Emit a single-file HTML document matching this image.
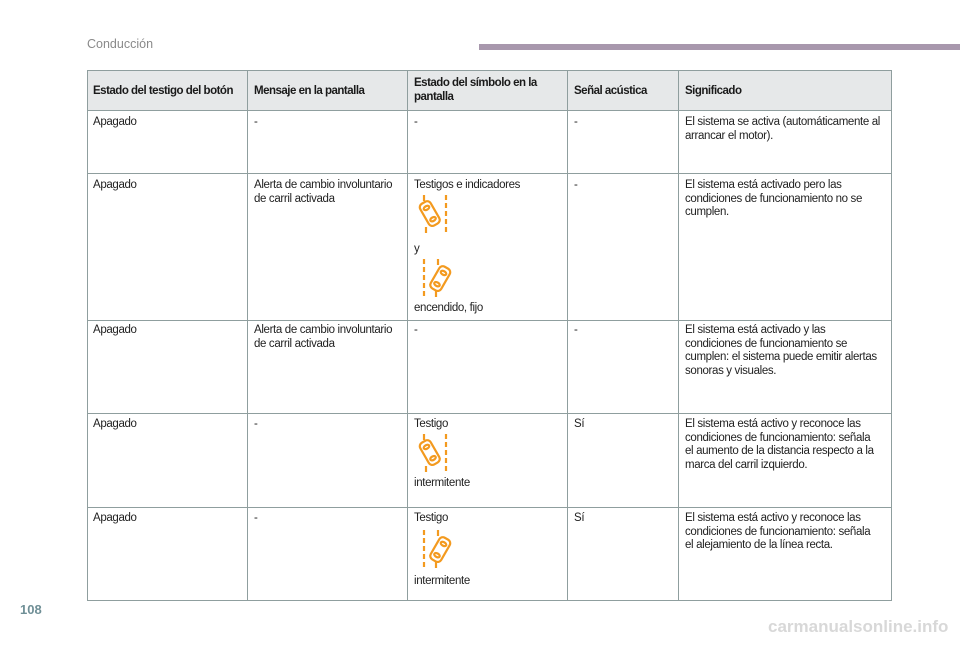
<!DOCTYPE html>
<html><head><meta charset="utf-8"><style>
body{margin:0;width:960px;height:649px;background:#fff;position:relative;overflow:hidden;font-family:"Liberation Sans",Arial,sans-serif;}
.t{position:absolute;font-size:11.5px;line-height:13.5px;color:#222;letter-spacing:-0.35px;white-space:nowrap}
.h{font-weight:bold;letter-spacing:-0.5px;color:#1a1a1a}
.hl{position:absolute;height:1px;background:#8f9e9e;left:87px;width:805px}
.vl{position:absolute;width:1px;background:#8f9e9e;top:70px;height:531px}
svg{position:absolute}
</style></head><body>
<div class="t" style="left:87px;top:38px;font-size:12.5px;color:#8a8a8a;letter-spacing:0">Conducción</div>
<div style="position:absolute;left:479px;top:44px;width:481px;height:6px;background:#a898ad"></div>
<div style="position:absolute;left:87px;top:70px;width:805px;height:41px;background:#e6e8e9"></div>
<div class="hl" style="top:70px"></div><div class="hl" style="top:110px"></div><div class="hl" style="top:173px"></div>
<div class="hl" style="top:320px"></div><div class="hl" style="top:413px"></div><div class="hl" style="top:507px"></div><div class="hl" style="top:600px"></div>
<div class="vl" style="left:87px"></div><div class="vl" style="left:247px"></div><div class="vl" style="left:407px"></div>
<div class="vl" style="left:567px"></div><div class="vl" style="left:678px"></div><div class="vl" style="left:891px"></div>

<div class="t h" style="left:93px;top:85px">Estado del testigo del botón</div>
<div class="t h" style="left:254px;top:85px">Mensaje en la pantalla</div>
<div class="t h" style="left:414px;top:77px">Estado del símbolo en la<br>pantalla</div>
<div class="t h" style="left:574px;top:85px">Señal acústica</div>
<div class="t h" style="left:685px;top:85px">Significado</div>

<div class="t" style="left:93px;top:116px">Apagado</div>
<div class="t" style="left:254px;top:116px">-</div>
<div class="t" style="left:414px;top:116px">-</div>
<div class="t" style="left:574px;top:116px">-</div>
<div class="t" style="left:685px;top:116px">El sistema se activa (automáticamente al<br>arrancar el motor).</div>

<div class="t" style="left:93px;top:179px">Apagado</div>
<div class="t" style="left:254px;top:179px">Alerta de cambio involuntario<br>de carril activada</div>
<div class="t" style="left:414px;top:179px">Testigos e indicadores</div>
<div class="t" style="left:414px;top:243px">y</div>
<div class="t" style="left:414px;top:302px">encendido, fijo</div>
<div class="t" style="left:574px;top:179px">-</div>
<div class="t" style="left:685px;top:179px">El sistema está activado pero las<br>condiciones de funcionamiento no se<br>cumplen.</div>

<div class="t" style="left:93px;top:324px">Apagado</div>
<div class="t" style="left:254px;top:324px">Alerta de cambio involuntario<br>de carril activada</div>
<div class="t" style="left:414px;top:324px">-</div>
<div class="t" style="left:574px;top:324px">-</div>
<div class="t" style="left:685px;top:324px">El sistema está activado y las<br>condiciones de funcionamiento se<br>cumplen: el sistema puede emitir alertas<br>sonoras y visuales.</div>

<div class="t" style="left:93px;top:418px">Apagado</div>
<div class="t" style="left:254px;top:418px">-</div>
<div class="t" style="left:414px;top:418px">Testigo</div>
<div class="t" style="left:414px;top:477px">intermitente</div>
<div class="t" style="left:574px;top:418px">Sí</div>
<div class="t" style="left:685px;top:418px">El sistema está activo y reconoce las<br>condiciones de funcionamiento: señala<br>el aumento de la distancia respecto a la<br>marca del carril izquierdo.</div>

<div class="t" style="left:93px;top:512px">Apagado</div>
<div class="t" style="left:254px;top:512px">-</div>
<div class="t" style="left:414px;top:512px">Testigo</div>
<div class="t" style="left:414px;top:575px">intermitente</div>
<div class="t" style="left:574px;top:512px">Sí</div>
<div class="t" style="left:685px;top:512px">El sistema está activo y reconoce las<br>condiciones de funcionamiento: señala<br>el alejamiento de la línea recta.</div>

<svg width="0" height="0"><defs>
<g id="a" fill="none" stroke="#f39a1f" stroke-width="2.2">
<line x1="6" y1="0" x2="6" y2="38" stroke-dasharray="5,3"/>
<line x1="33" y1="0" x2="33" y2="38" stroke-dasharray="5,3"/>
<g transform="rotate(-30 19 19)"><rect x="13" y="6" width="12" height="25" rx="4"/><ellipse cx="19" cy="12" rx="3" ry="1.8"/><ellipse cx="19" cy="25" rx="3" ry="1.8"/></g>
</g>
<g id="b" fill="none" stroke="#f39a1f" stroke-width="2.2">
<line x1="6" y1="0" x2="6" y2="38" stroke-dasharray="5,3"/>
<line x1="20" y1="0" x2="20" y2="38" stroke-dasharray="5,3"/>
<g transform="rotate(30 28 20)"><rect x="22" y="7" width="12" height="25" rx="4"/><ellipse cx="28" cy="13" rx="3" ry="1.8"/><ellipse cx="28" cy="26" rx="3" ry="1.8"/></g>
</g>
</defs></svg>
<svg style="left:414px;top:195px" width="40" height="40"><g fill="none" stroke="#f39a1f" stroke-width="2.2"><line x1="32" y1="0" x2="32" y2="38" stroke-dasharray="5,3"/><line x1="22" y1="4" x2="22" y2="38" stroke-dasharray="5,3" opacity="0"/><g transform="rotate(-30 16 19)"><rect x="10" y="6" width="12" height="25" rx="4"/><ellipse cx="16" cy="12" rx="3" ry="1.8"/><ellipse cx="16" cy="25" rx="3" ry="1.8"/></g><line x1="10" y1="0" x2="10" y2="6"/><line x1="12" y1="32" x2="12" y2="38"/></g></svg>
<svg style="left:414px;top:259px" width="40" height="40"><g fill="none" stroke="#f39a1f" stroke-width="2.2"><line x1="10" y1="0" x2="10" y2="38" stroke-dasharray="5,3"/><g transform="rotate(30 26 20)"><rect x="20" y="7" width="12" height="25" rx="4"/><ellipse cx="26" cy="13" rx="3" ry="1.8"/><ellipse cx="26" cy="26" rx="3" ry="1.8"/></g><line x1="24" y1="0" x2="24" y2="6"/><line x1="22" y1="32" x2="22" y2="38"/></g></svg>
<svg style="left:414px;top:434px" width="40" height="40"><g fill="none" stroke="#f39a1f" stroke-width="2.2"><line x1="32" y1="0" x2="32" y2="38" stroke-dasharray="5,3"/><g transform="rotate(-30 16 19)"><rect x="10" y="6" width="12" height="25" rx="4"/><ellipse cx="16" cy="12" rx="3" ry="1.8"/><ellipse cx="16" cy="25" rx="3" ry="1.8"/></g><line x1="10" y1="0" x2="10" y2="6"/><line x1="12" y1="32" x2="12" y2="38"/></g></svg>
<svg style="left:414px;top:530px" width="40" height="40"><g fill="none" stroke="#f39a1f" stroke-width="2.2"><line x1="10" y1="0" x2="10" y2="38" stroke-dasharray="5,3"/><g transform="rotate(30 26 20)"><rect x="20" y="7" width="12" height="25" rx="4"/><ellipse cx="26" cy="13" rx="3" ry="1.8"/><ellipse cx="26" cy="26" rx="3" ry="1.8"/></g><line x1="24" y1="0" x2="24" y2="6"/><line x1="22" y1="32" x2="22" y2="38"/></g></svg>

<div class="t" style="left:20px;top:603px;font-size:13px;font-weight:bold;color:#6f8f96;letter-spacing:0">108</div>
<div class="t" style="left:768px;top:620px;font-size:17px;font-weight:bold;color:#d8d8d8;letter-spacing:0">carmanualsonline.info</div>
</body></html>
